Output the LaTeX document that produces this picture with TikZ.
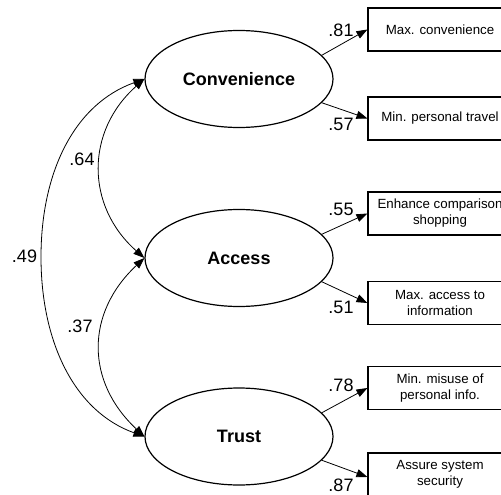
\documentclass[tikz,border=0pt]{standalone}
\usepackage{fontspec}
\setmainfont{Liberation Sans}
\usetikzlibrary{shapes.geometric,arrows.meta}
\begin{document}
\begin{tikzpicture}[x=1pt,y=-1pt,
  latent/.style={ellipse,draw,line width=1.2pt,minimum width=188pt,minimum height=97pt,inner sep=0pt,font=\fontsize{18}{20}\selectfont\bfseries},
  indicator/.style={rectangle,draw,line width=1.1pt,minimum width=144pt,minimum height=43pt,inner sep=0pt,align=center,font=\fontsize{13.3}{16}\selectfont},
  load/.style={font=\fontsize{18}{20}\selectfont,inner sep=0pt},
  loadpath/.style={line width=0.8pt,-{Triangle[length=11pt,width=8pt]}},
  cov/.style={line width=0.8pt,{Triangle[length=11pt,width=8pt]}-{Triangle[length=11pt,width=8pt]}}]
\useasboundingbox (0,0) rectangle (501,495);
\clip (0,0) rectangle (501,495);

\node[latent] (conv) at (239,79) {Convenience};
\node[latent] (acc) at (239,258) {Access};
\node[latent] (trust) at (239,436.5) {Trust};

\node[indicator] (i1) at (440,29.5) {Max. convenience};
\node[indicator] (i2) at (440,118.5) {Min. personal travel};
\node[indicator] (i3) at (440,213.5) {Enhance comparison\\shopping};
\node[indicator] (i4) at (440,303) {Max. access to\\information};
\node[indicator] (i5) at (440,388) {Min. misuse of\\personal info.};
\node[indicator] (i6) at (440,474.5) {Assure system\\security};

\draw[loadpath] (conv.16) -- (i1.west);
\draw[loadpath] (conv.-16) -- (i2.west);
\draw[loadpath] (acc.16) -- (i3.west);
\draw[loadpath] (acc.-16) -- (i4.west);
\draw[loadpath] (trust.16) -- (i5.west);
\draw[loadpath] (trust.-16) -- ([yshift=-2.5pt]i6.west);

\node[load] (l81) at (341,30) {.81};
\node[load] (l57) at (341,124) {.57};
\node[load] (l55) at (341,209) {.55};
\node[load] (l51) at (341,307) {.51};
\node[load] (l78) at (341,385) {.78};
\node[load] (l87) at (341,485) {.87};

\coordinate (m49) at (41,257);
\draw[cov] (conv.west) .. controls +(-70,25) and +(0,-85) .. (m49) .. controls +(0,85) and +(-70,-25) .. (trust.west);
\draw[cov] (conv.west) .. controls +(-59,52) and +(-59,-52) .. (acc.west);
\draw[cov] (acc.west) .. controls +(-59,55) and +(-59,-55) .. (trust.west);

\node[load] (c64) at (82,159) {.64};
\node[load] (c37) at (80,326) {.37};
\node[load] (c49) at (24.5,256) {.49};
\end{tikzpicture}
\end{document}
